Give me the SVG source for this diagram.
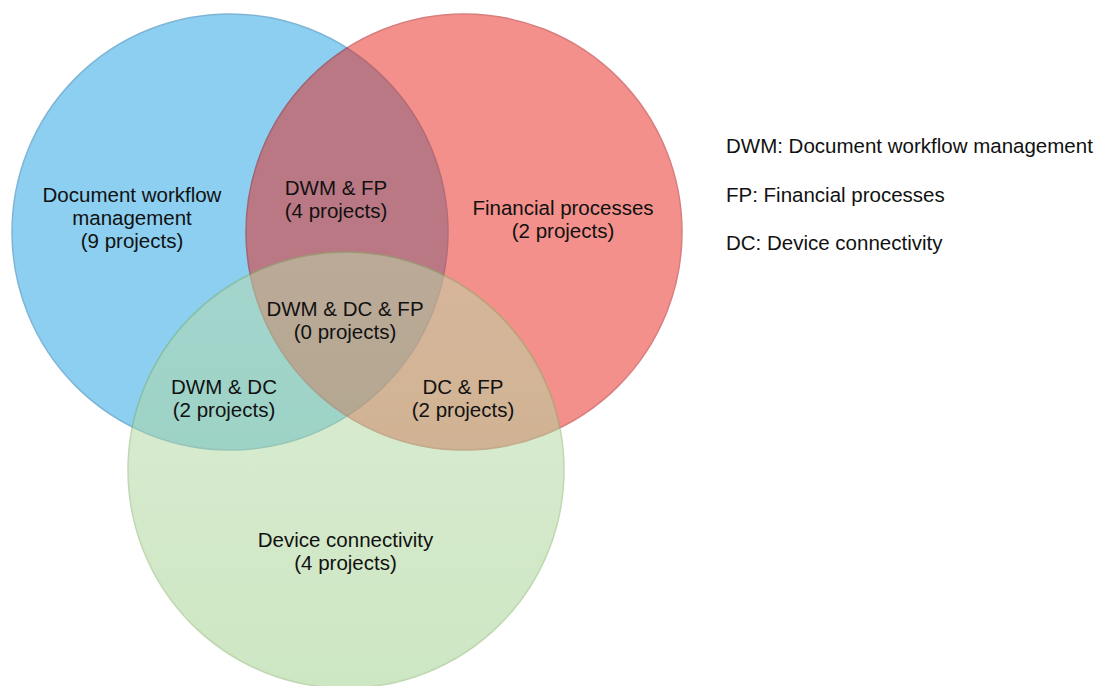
<svg xmlns="http://www.w3.org/2000/svg" width="1104" height="686" viewBox="0 0 1104 686">
  <style>
    .lbl { font-family: "Liberation Sans", Arial, Helvetica, sans-serif; font-size: 20.5px; fill: #111111; text-anchor: middle; }
    .leg { font-family: "Liberation Sans", Arial, Helvetica, sans-serif; font-size: 20.5px; fill: #111111; }
    .set { opacity: 0.5; stroke-width: 1.5; }
  </style>
  <defs>
    <linearGradient id="gGreen" x1="0" y1="0" x2="0" y2="1">
      <stop offset="0" stop-color="#bddcad"/>
      <stop offset="1" stop-color="#9dd088"/>
    </linearGradient>
  </defs>
  <rect width="1104" height="686" fill="#ffffff"/>
  <g id="set-dwm">
    <circle class="set" cx="230" cy="232" r="218" fill="#1ba1e2" stroke="#006eaf"/>
  </g>
  <g id="set-fp">
    <circle class="set" cx="464" cy="232" r="218" fill="#e8241a" stroke="#b20000"/>
  </g>
  <g id="set-dc">
    <circle class="set" cx="346" cy="470" r="218" fill="url(#gGreen)" stroke="#82b366"/>
  </g>
  <g id="label-dwm">
    <text class="lbl" x="132" y="201.5">Document workflow</text>
    <text class="lbl" x="132" y="224.5">management</text>
    <text class="lbl" x="132" y="247.5">(9 projects)</text>
  </g>
  <g id="label-dwm-fp">
    <text class="lbl" x="336" y="194.5">DWM &amp; FP</text>
    <text class="lbl" x="336" y="217.5">(4 projects)</text>
  </g>
  <g id="label-fp">
    <text class="lbl" x="563" y="215">Financial processes</text>
    <text class="lbl" x="563" y="238">(2 projects)</text>
  </g>
  <g id="label-all">
    <text class="lbl" x="345" y="316">DWM &amp; DC &amp; FP</text>
    <text class="lbl" x="345" y="339">(0 projects)</text>
  </g>
  <g id="label-dwm-dc">
    <text class="lbl" x="224" y="393.5">DWM &amp; DC</text>
    <text class="lbl" x="224" y="416.5">(2 projects)</text>
  </g>
  <g id="label-dc-fp">
    <text class="lbl" x="463" y="393.5">DC &amp; FP</text>
    <text class="lbl" x="463" y="416.5">(2 projects)</text>
  </g>
  <g id="label-dc">
    <text class="lbl" x="345.5" y="546.5">Device connectivity</text>
    <text class="lbl" x="345.5" y="569.5">(4 projects)</text>
  </g>
  <g id="legend">
    <text class="leg" x="726" y="153">DWM: Document workflow management</text>
    <text class="leg" x="726" y="201.5">FP: Financial processes</text>
    <text class="leg" x="726" y="250">DC: Device connectivity</text>
  </g>
</svg>
